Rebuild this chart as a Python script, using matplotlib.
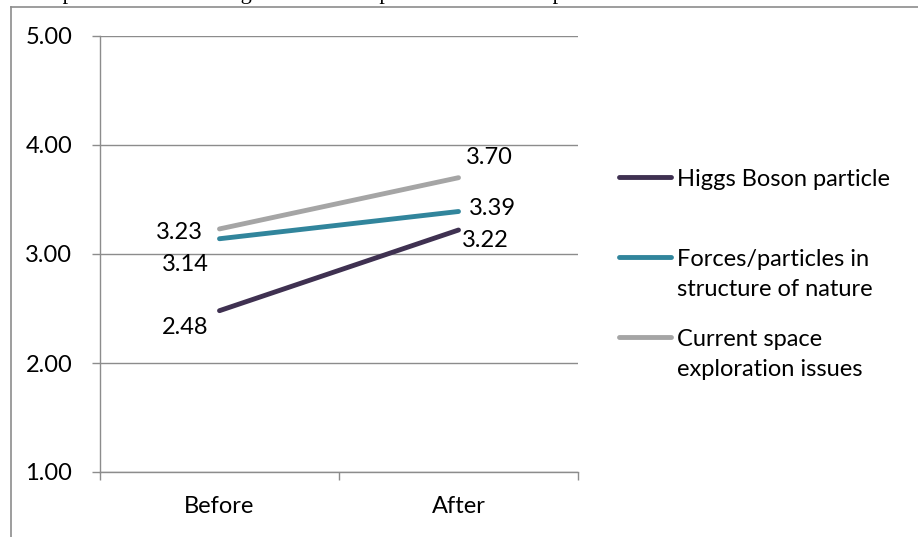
import matplotlib
matplotlib.use("Agg")
import matplotlib.pyplot as plt
from matplotlib.lines import Line2D

plt.rcParams['font.family'] = ['Lato', 'DejaVu Sans']

categories = ["Before", "After"]
series_names = ["Higgs Boson particle",
                "Forces/particles in\nstructure of nature",
                "Current space\nexploration issues"]
higgs = [2.48, 3.22]
forces = [3.14, 3.39]
current = [3.23, 3.70]
series_values = [higgs, forces, current]
colors = ["#3F3151", "#31859C", "#A5A5A5"]
y_ticks = [1.00, 2.00, 3.00, 4.00, 5.00]

# label offsets in pixels (before, after) for each series
label_offsets = [[(-34, -17), (27, -10)],
                 [(-34, -26), (34, 3)],
                 [(-40, -4), (31, 20)]]

FS = 17
W, H = 918, 537
fig = plt.figure(figsize=(W / 100, H / 100), dpi=100)

# outer chart frame (top and left edges)
fig.add_artist(Line2D([11 / W, 11 / W], [0, 1 - 7 / H], color="#8C8C8C", lw=1.2))
fig.add_artist(Line2D([11 / W, 1], [1 - 7 / H, 1 - 7 / H], color="#8C8C8C", lw=1.2))

# caption running above the frame
fig.text(20 / W, 1 + 1 / H, "able parts? Understanding of Science Topics Discussed in Episodes",
         family="Liberation Serif", fontsize=16, va="baseline", ha="left", color="black")

ax = fig.add_axes([100 / W, (H - 472) / H, 478 / W, 436 / H])
x = list(range(len(categories)))
for vals, name, c, offs in zip(series_values, series_names, colors, label_offsets):
    ax.plot(x, vals, color=c, lw=3.5, solid_capstyle="round")
    for xi, v, off in zip(x, vals, offs):
        ax.annotate(f"{v:.2f}", (xi, v), xytext=off, textcoords="offset pixels",
                    ha="center", va="center", fontsize=FS, color="black")

ax.set_xlim(-0.5, 1.5)
ax.set_ylim(1, 5)
ax.set_yticks(y_ticks)
ax.set_yticklabels([f"{t:.2f}" for t in y_ticks], fontsize=FS)
ax.set_xticks(x)
ax.set_xticklabels(categories, fontsize=FS)
ax.set_xticks([-0.5, 0.5, 1.5], minor=True)
ax.tick_params(axis="x", which="major", length=0, pad=17)
ax.tick_params(axis="x", which="minor", length=6, color="#8C8C8C", width=1)
ax.tick_params(axis="y", length=6, color="#8C8C8C", width=1, pad=14)
ax.grid(axis="y", color="#8C8C8C", lw=1)
ax.set_axisbelow(True)
for s in ["top", "right"]:
    ax.spines[s].set_visible(False)
for s in ["left", "bottom"]:
    ax.spines[s].set_color("#8C8C8C")
    ax.spines[s].set_linewidth(1)

# legend drawn at fixed positions to the right of the plot
legend_rows = [177, 257, 337]
line_gap = 30
for name, c, yrow in zip(series_names, colors, legend_rows):
    fy = 1 - yrow / H
    fig.add_artist(Line2D([619 / W, 671 / W], [fy, fy], color=c, lw=3.5,
                          solid_capstyle="round"))
    for i, part in enumerate(name.split("\n")):
        fig.text(677 / W, 1 - (yrow + i * line_gap) / H, part, fontsize=FS,
                 va="center_baseline", ha="left")

fig.savefig("out.png", dpi=100)
